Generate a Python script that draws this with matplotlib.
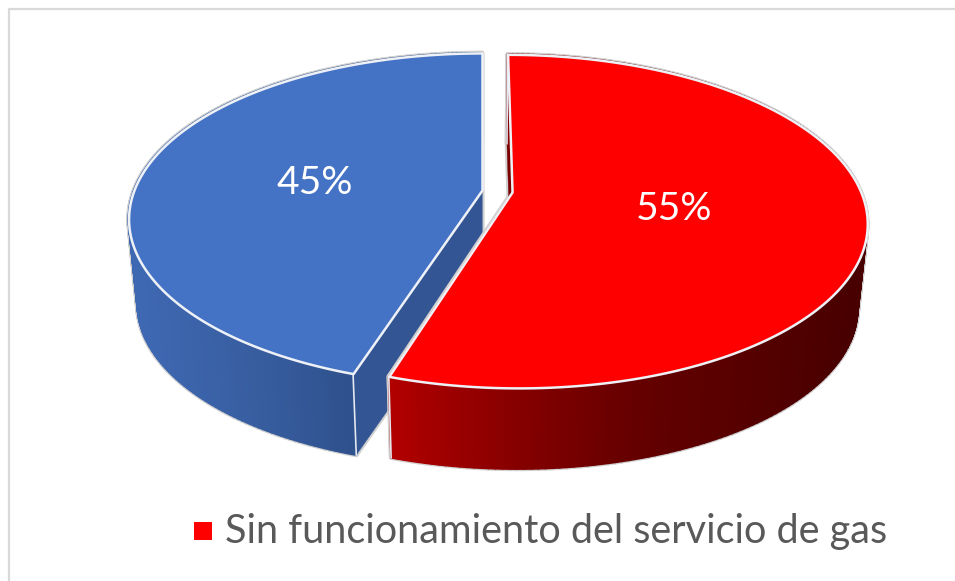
import numpy as np
import matplotlib
matplotlib.use('Agg')
import matplotlib.pyplot as plt
from matplotlib.collections import PolyCollection
from matplotlib.patches import Rectangle

## chart values
shares = [55, 45]
share_labels = ['55%', '45%']
top_colors = ['#FF0000', '#4472C4']
legend_label = 'Sin funcionamiento del servicio de gas'

plt.rcParams['font.family'] = ['Lato', 'DejaVu Sans']

## look of the tilted disc (all in pixels of the picture)
cx, cy = 482, 190
B, A, k = 348, 161, 0.1746
low_scale, low_drop = 0.975, 86


def project(u, v, low=False):
    w = 1 + k * v
    x = B * u / w
    y = -A * v / w
    if low:
        return cx + x * low_scale, cy + y * low_scale + low_drop
    return cx + x, cy + y


def ramp(x, stops):
    xs = [s[0] for s in stops]
    out = []
    for i in range(3):
        out.append(np.interp(x, xs, [s[1][i] for s in stops]))
    return np.array(out).T / 255


red_stops = [(393, (176, 0, 0)), (520, (132, 0, 0)), (640, (100, 0, 0)), (860, (72, 0, 0))]
blue_stops = [(139, (62, 104, 178)), (250, (56, 94, 160)), (358, (46, 80, 140))]

fig = plt.figure(figsize=(9.55, 5.81), dpi=100, facecolor='white')
ax = fig.add_axes([0, 0, 1, 1])
ax.set_xlim(0, 955)
ax.set_ylim(581, 0)
ax.axis('off')

## chart frame, only top and left are inside the picture
ax.plot([8.5, 8.5, 955], [581, 9, 9], color='#D9D9D9', lw=1.6)

## slice angles, clockwise from the top
angles = np.cumsum([0] + shares) / sum(shares) * 2 * np.pi
offsets = [(30 / B, -0.012), (0, 0)]
ramps = [red_stops, blue_stops]
face_cols = ['#7A0000', '#335593']


def rim(a0, a1, off, low=False, n=200):
    t = np.linspace(a0, a1, n)
    return project(np.sin(t) + off[0], np.cos(t) + off[1], low)


## blue goes first, red lies over it
for i in [1, 0]:
    a0, a1 = angles[i], angles[i + 1]
    off = offsets[i]
    xt, yt = rim(a0, a1, off)
    xb, yb = rim(a0, a1, off, low=True)
    tipt = project(off[0], off[1])
    tipb = project(off[0], off[1], low=True)

    quads = [[(xt[j], yt[j]), (xt[j + 1], yt[j + 1]), (xb[j + 1], yb[j + 1]), (xb[j], yb[j])]
             for j in range(len(xt) - 1)]
    cols = ramp((xt[:-1] + xt[1:]) / 2, ramps[i])

    ## the straight cut faces
    faces = [[tipt, (xt[0], yt[0]), (xb[0], yb[0]), tipb],
             [tipt, (xt[-1], yt[-1]), (xb[-1], yb[-1]), tipb]]

    ## grey outline first, then the fill over it
    ax.add_collection(PolyCollection(quads + faces, facecolors='#D0D0D0', edgecolors='#D0D0D0',
                                     linewidths=3.2, zorder=2 + i * -1))
    ax.add_collection(PolyCollection(faces, facecolors=face_cols[i], edgecolors=face_cols[i],
                                     linewidths=0.3, zorder=2 + i * -1))
    ax.add_collection(PolyCollection(quads, facecolors=cols, edgecolors=cols,
                                     linewidths=1.4, zorder=2 + i * -1))
    ## line down the front corner
    ax.plot([xt[0], xb[0]], [yt[0], yb[0]], color='#E4E8F0', lw=1.2, zorder=2 + i * -1)
    ax.plot([xt[-1], xb[-1]], [yt[-1], yb[-1]], color='#E4E8F0', lw=1.2, zorder=2 + i * -1)

    top = [tipt] + list(zip(xt, yt))
    ax.add_collection(PolyCollection([top], facecolors=top_colors[i], edgecolors='#EEF1F6',
                                     linewidths=1.8, zorder=2 + i * -1, joinstyle='round'))

## percent labels
ax.text(674, 208.5, share_labels[0], color='white', fontsize=28, ha='center', va='center', zorder=5)
ax.text(315, 183.5, share_labels[1], color='white', fontsize=28, ha='center', va='center', zorder=5)

## legend, only one entry shows
ax.add_patch(Rectangle((194, 522), 18, 18, facecolor='#FF0000', edgecolor='none'))
ax.text(225, 532, legend_label, color='#595959', fontsize=28.5, ha='left', va='center')

fig.savefig('out.png', dpi=100)
